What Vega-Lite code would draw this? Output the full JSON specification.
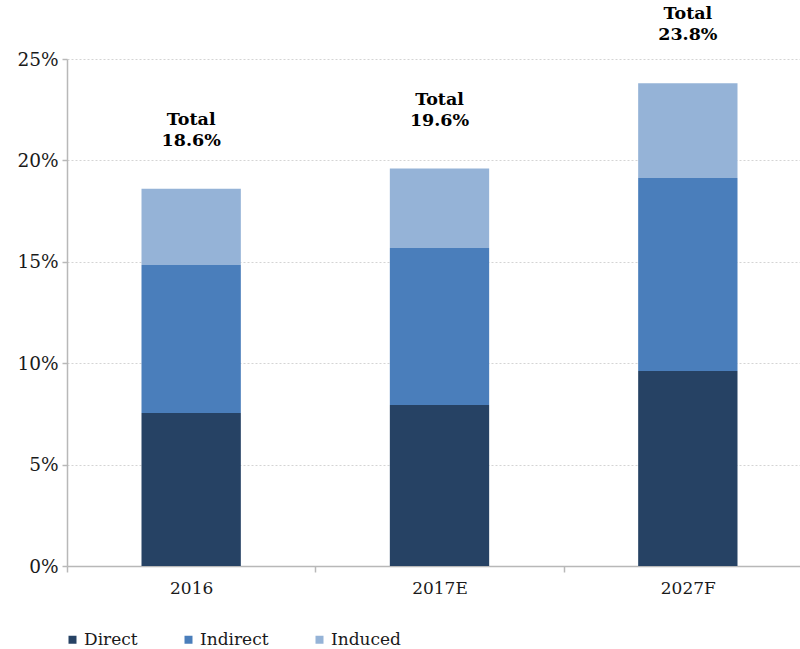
{
  "$schema": "https://vega.github.io/schema/vega-lite/v6.json",
  "width": 745,
  "height": 507,
  "autosize": {"type": "none"},
  "padding": {"left": 67, "top": 59, "right": 0, "bottom": 83},
  "background": "white",
  "config": {
    "font": "DejaVu Serif",
    "view": {"stroke": null}
  },
  "datasets": {
    "parts": [
      {"year": "2016", "type": "Direct", "k": 1, "value": 0.0754},
      {"year": "2016", "type": "Indirect", "k": 2, "value": 0.0730},
      {"year": "2016", "type": "Induced", "k": 3, "value": 0.0376},
      {"year": "2017E", "type": "Direct", "k": 1, "value": 0.0794},
      {"year": "2017E", "type": "Indirect", "k": 2, "value": 0.0774},
      {"year": "2017E", "type": "Induced", "k": 3, "value": 0.0392},
      {"year": "2027F", "type": "Direct", "k": 1, "value": 0.0962},
      {"year": "2027F", "type": "Indirect", "k": 2, "value": 0.0951},
      {"year": "2027F", "type": "Induced", "k": 3, "value": 0.0467}
    ],
    "totals": [
      {"year": "2016", "total": 0.186, "label": "Total\n18.6%"},
      {"year": "2017E", "total": 0.196, "label": "Total\n19.6%"},
      {"year": "2027F", "total": 0.238, "label": "Total\n23.8%"}
    ]
  },
  "encoding": {
    "x": {
      "field": "year",
      "type": "nominal",
      "sort": ["2016", "2017E", "2027F"],
      "scale": {"paddingInner": 0, "paddingOuter": 0},
      "axis": {
        "title": null,
        "labelAngle": 0,
        "tickBand": "extent",
        "domainColor": "#b8b8b8",
        "domainWidth": 1.5,
        "tickColor": "#b8b8b8",
        "tickWidth": 1.5,
        "tickSize": 6,
        "labelFontSize": 17,
        "labelColor": "#1a1a1a",
        "labelPadding": 8,
        "labelFont": "DejaVu Serif"
      }
    }
  },
  "layer": [
    {
      "data": {"name": "parts"},
      "mark": {"type": "bar", "width": {"band": 0.4}},
      "encoding": {
        "y": {
          "field": "value",
          "type": "quantitative",
          "stack": "zero",
          "scale": {"domain": [0, 0.25], "nice": false},
          "axis": {
            "title": null,
            "format": ".0%",
            "values": [0, 0.05, 0.1, 0.15, 0.2, 0.25],
            "grid": true,
            "gridColor": "#d4d4d4",
            "gridDash": [2, 2],
            "gridWidth": 1,
            "domainColor": "#b8b8b8",
            "domainWidth": 1.5,
            "tickColor": "#b8b8b8",
            "tickWidth": 1.5,
            "tickSize": 5,
            "labelFontSize": 18.5,
            "labelColor": "#1a1a1a",
            "labelPadding": 4,
            "labelFont": "DejaVu Serif"
          }
        },
        "color": {
          "field": "type",
          "type": "nominal",
          "sort": ["Direct", "Indirect", "Induced"],
          "scale": {
            "domain": ["Direct", "Indirect", "Induced"],
            "range": ["#264264", "#4a7ebb", "#95b3d7"]
          },
          "legend": {
            "title": null,
            "orient": "none",
            "direction": "horizontal",
            "legendX": -3,
            "legendY": 572,
            "symbolType": "square",
            "symbolSize": 64,
            "symbolStrokeWidth": 0,
            "labelFontSize": 17,
            "labelColor": "#1a1a1a",
            "labelFont": "DejaVu Serif",
            "labelOffset": 3,
            "columnPadding": 42
          }
        },
        "order": {"field": "k", "type": "quantitative"}
      }
    },
    {
      "data": {"name": "totals"},
      "mark": {
        "type": "text",
        "lineBreak": "\n",
        "fontWeight": "bold",
        "fontSize": 17.5,
        "lineHeight": 21,
        "baseline": "bottom",
        "dy": -60,
        "color": "#000000",
        "font": "DejaVu Serif"
      },
      "encoding": {
        "y": {"field": "total", "type": "quantitative"},
        "text": {"field": "label"}
      }
    }
  ]
}
